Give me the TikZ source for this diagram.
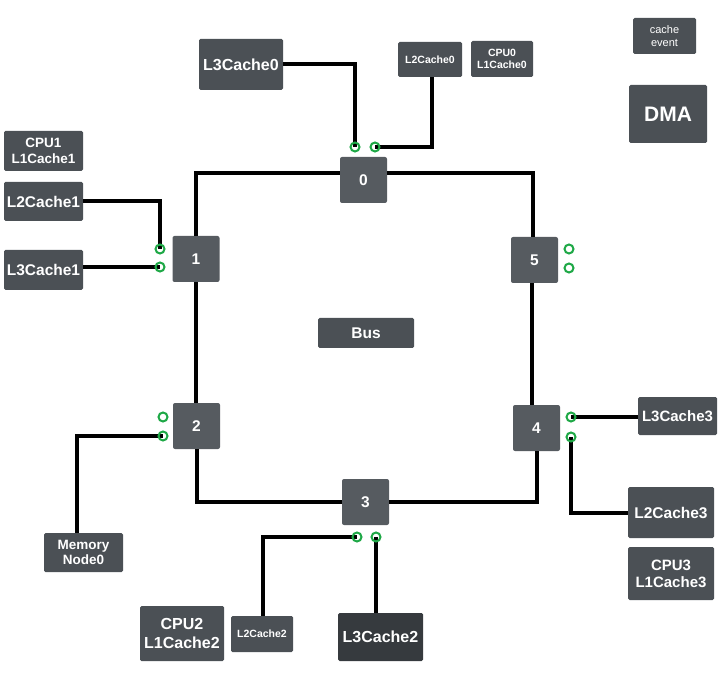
\documentclass[tikz,border=0pt]{standalone}
\usepackage{fontspec}
\setmainfont{Liberation Sans}
\definecolor{boxgrey}{RGB}{75,80,85}
\definecolor{routergrey}{RGB}{86,91,96}
\definecolor{darkbox}{RGB}{54,58,62}
\definecolor{portgreen}{RGB}{30,168,70}
\newcommand{\fs}[1]{\fontsize{#1pt}{1.15\dimexpr #1pt\relax}\selectfont}
\begin{document}
\begin{tikzpicture}[x=1pt,y=-1pt,
  gbox/.style={fill=boxgrey,rounded corners=1.5pt,inner sep=0pt,text=white,align=center,font=\bfseries},
  router/.style={fill=routergrey,rounded corners=2pt,inner sep=0pt,minimum width=47pt,minimum height=46pt,text=white,font=\bfseries\fs{15.5}},
  wire/.style={line width=4pt,draw=black},
  port/.style={draw=portgreen,line width=2pt,circle,inner sep=0pt,minimum size=9pt}]
\useasboundingbox (0,0) rectangle (720,700);
% routers
\node[router] (n0) at (363.5,180) {0};
\node[router] (n1) at (196,259) {1};
\node[router] (n5) at (534.5,260) {5};
\node[router] (n2) at (196.5,426) {2};
\node[router] (n4) at (536.5,428) {4};
\node[router] (n3) at (365.5,502) {3};
% boxes
\node[gbox,minimum width=84pt,minimum height=51pt,font=\bfseries\fs{16}] (l30) at (241,64.5) {L3Cache0};
\node[gbox,minimum width=64pt,minimum height=35pt,font=\bfseries\fs{10.5}] (l20) at (430,59.5) {L2Cache0};
\node[gbox,minimum width=62pt,minimum height=36pt,font=\bfseries\fs{10.5}] (cpu0) at (502,59) {CPU0\\L1Cache0};
\node[gbox,minimum width=63pt,minimum height=36pt,font=\fs{11}] (ce) at (664.5,36) {cache\\event};
\node[gbox,minimum width=78pt,minimum height=58pt,font=\bfseries\fs{21}] (dma) at (668,114) {DMA};
\node[gbox,minimum width=79pt,minimum height=40pt,font=\bfseries\fs{13.5}] (cpu1) at (43.5,151) {CPU1\\L1Cache1};
\node[gbox,minimum width=79pt,minimum height=39pt,font=\bfseries\fs{15.5}] (l21) at (43.5,201.5) {L2Cache1};
\node[gbox,minimum width=79pt,minimum height=40pt,font=\bfseries\fs{15.5}] (l31) at (43.5,270) {L3Cache1};
\node[gbox,minimum width=96pt,minimum height=30pt,font=\bfseries\fs{15.5}] (bus) at (366,333) {Bus};
\node[gbox,minimum width=79pt,minimum height=39pt,font=\bfseries\fs{13.5}] (mem) at (83.5,552.5) {Memory\\Node0};
\node[gbox,minimum width=84pt,minimum height=55pt,font=\bfseries\fs{16}] (cpu2) at (182,633.5) {CPU2\\L1Cache2};
\node[gbox,minimum width=62pt,minimum height=36pt,font=\bfseries\fs{10.5}] (l22) at (262,634) {L2Cache2};
\node[gbox,fill=darkbox,minimum width=85pt,minimum height=48pt,font=\bfseries\fs{16}] (l32) at (380.5,637) {L3Cache2};
\node[gbox,minimum width=79pt,minimum height=38pt,font=\bfseries\fs{15}] (l33) at (677.5,416) {L3Cache3};
\node[gbox,minimum width=86pt,minimum height=51pt,font=\bfseries\fs{15.5}] (l23) at (671,512.5) {L2Cache3};
\node[gbox,minimum width=86pt,minimum height=53pt,font=\bfseries\fs{15}] (cpu3) at (671,573.5) {CPU3\\L1Cache3};
% port coordinates
\coordinate (c0a) at (355,147);
\coordinate (c0b) at (375,147);
\coordinate (c1a) at (160,249);
\coordinate (c1b) at (160,267);
\coordinate (c5a) at (569,249);
\coordinate (c5b) at (569,268);
\coordinate (c2a) at (163,417);
\coordinate (c2b) at (163,436);
\coordinate (c4a) at (571,417);
\coordinate (c4b) at (571,437);
\coordinate (c3a) at (357,537);
\coordinate (c3b) at (376,537);
% ring
\draw[wire] ([yshift=7pt]n0.west) -| ([xshift=-0.5pt]n1.north);
\draw[wire] (n1.south) -- (n1.south |- n2.north);
\draw[wire] (n2.south) |- (n3.west);
\draw[wire] (n3.east) -| (n4.south);
\draw[wire] ([xshift=-4.5pt]n4.north) -- ([xshift=-2.5pt]n5.south);
\draw[wire] ([xshift=-1.5pt]n5.north) |- ([yshift=7pt]n0.east);
% connectors
\draw[wire] (l30.east) -| (c0a);
\draw[wire] ([xshift=2pt]l20.south) |- (c0b);
\draw[wire] (l21.east) -| (c1a);
\draw[wire] (l31.east |- c1b) -- (c1b);
\draw[wire] ([xshift=-6.5pt]mem.north) |- (c2b);
\draw[wire] ([xshift=1pt]l22.north) |- (c3a);
\draw[wire] (c3b |- l32.north) -- (c3b);
\draw[wire] (l33.west |- c4a) -- (c4a);
\draw[wire] (c4b) |- (l23.west);
% ports
\foreach \p in {c0a,c0b,c1a,c1b,c5a,c5b,c2a,c2b,c4a,c4b,c3a,c3b}
  \node[port] (p\p) at (\p) {};
\end{tikzpicture}
\end{document}
